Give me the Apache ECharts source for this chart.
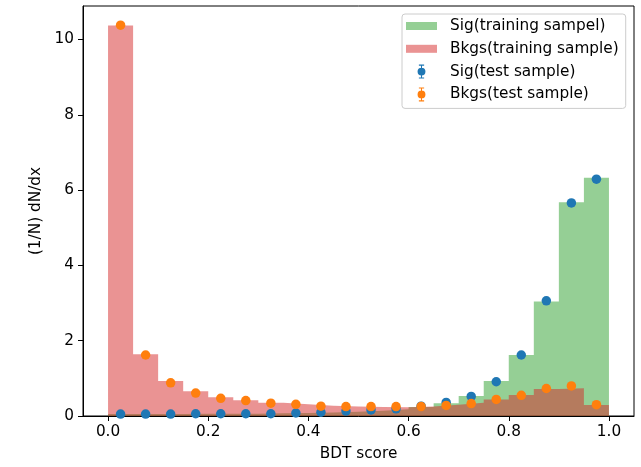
<!DOCTYPE html>
<html>
<head>
<meta charset="utf-8">
<script src="https://cdn.jsdelivr.net/npm/echarts@6/dist/echarts.min.js"></script>
<style>html,body{margin:0;padding:0;background:#fff;}#c{width:641px;height:467px;}</style>
</head>
<body>
<div id="c"></div>
<script>
// Bin edges of the 20-bin histograms (BDT score from 0 to 1)
var binEdges = [0.00,0.05,0.10,0.15,0.20,0.25,0.30,0.35,0.40,0.45,0.50,0.55,0.60,0.65,0.70,0.75,0.80,0.85,0.90,0.95,1.00];
var xTicks = [0.0,0.2,0.4,0.6,0.8,1.0];
var yTicks = [0,2,4,6,8,10];

// Training-sample histograms (density per bin)
var sigTrain = [0.05,0.05,0.05,0.06,0.06,0.06,0.07,0.08,0.09,0.11,0.14,0.18,0.24,0.34,0.53,0.93,1.62,3.04,5.68,6.33];
var bkgTrain = [10.37,1.64,0.93,0.66,0.50,0.42,0.35,0.31,0.27,0.25,0.24,0.23,0.25,0.30,0.35,0.44,0.56,0.72,0.74,0.29];
// Test-sample points (bin centres)
var sigTest = [0.05,0.05,0.05,0.06,0.06,0.06,0.06,0.08,0.10,0.13,0.16,0.19,0.26,0.36,0.52,0.91,1.62,3.06,5.66,6.29];
var bkgTest = [10.38,1.62,0.88,0.61,0.47,0.41,0.34,0.31,0.26,0.25,0.25,0.25,0.25,0.28,0.33,0.44,0.55,0.73,0.80,0.30];

var names = ['Sig(training sampel)','Bkgs(training sample)','Sig(test sample)','Bkgs(test sample)'];
var colors = ['rgba(44,160,44,0.5)','rgba(214,39,40,0.5)','#1f77b4','#ff7f0e'];

function stepData(vals){
  var d = [];
  for (var i = 0; i < vals.length; i++) d.push([binEdges[i], vals[i]]);
  d.push([binEdges[vals.length], vals[vals.length-1]]);
  return d;
}
function pointData(vals){
  var d = [];
  for (var i = 0; i < vals.length; i++) d.push([(binEdges[i]+binEdges[i+1])/2, vals[i]]);
  return d;
}

var FONT = 'DejaVu Sans';
var FS = 15.3;
var rectIcon = 'path://M0,0H31V8H0Z';
var ebIcon = 'path://M2,0H8V1.2H5.6V4H4.4V1.2H2Z M4.4,12H5.6V14.8H8V16H2V14.8H4.4Z M0.5,8A4.5,4.5 0 1,1 9.5,8A4.5,4.5 0 1,1 0.5,8Z';
var icons = [rectIcon, rectIcon, ebIcon, ebIcon];

var legendData = names.map(function(n, i){
  return {name: n, icon: icons[i], itemStyle: {color: colors[i], opacity: 1, borderWidth: 0}};
});

var chart = echarts.init(document.getElementById('c'), null, {renderer:'canvas'});
chart.setOption({
  animation: false,
  backgroundColor: '#ffffff',
  textStyle: {fontFamily: FONT},
  grid: {left: 83, right: 7, top: 6, bottom: 51, show: true, borderColor: '#000', borderWidth: 1, backgroundColor: 'transparent'},
  legend: {
    orient: 'vertical',
    left: 402, top: 14,
    itemWidth: 31, itemHeight: 14,
    itemGap: 6.8,
    padding: [4, 7, 6, 4],
    backgroundColor: 'rgba(255,255,255,0.8)',
    borderColor: '#cccccc', borderWidth: 1, borderRadius: 3,
    textStyle: {fontFamily: FONT, fontSize: FS, lineHeight: 16, color: '#000', padding: [0,0,0,8]},
    selectedMode: false,
    data: legendData
  },
  xAxis: {
    type: 'value', min: -0.05, max: 1.05,
    name: 'BDT score', nameLocation: 'middle', nameGap: 31,
    nameTextStyle: {fontFamily: FONT, fontSize: FS, color: '#000'},
    axisLine: {show: true, onZero: false, lineStyle: {color: '#000', width: 1}},
    axisTick: {show: true, length: 5, inside: false, customValues: xTicks, lineStyle: {color: '#000'}},
    axisLabel: {show: true, margin: 9, customValues: xTicks, fontFamily: FONT, fontSize: FS, color: '#000',
      formatter: function(v){ return v.toFixed(1); }},
    splitLine: {show: false}
  },
  yAxis: {
    type: 'value', min: 0, max: 10.89,
    name: '(1/N) dN/dx', nameLocation: 'middle', nameGap: 35,
    nameTextStyle: {fontFamily: FONT, fontSize: FS, color: '#000'},
    axisLine: {show: true, onZero: false, lineStyle: {color: '#000', width: 1}},
    axisTick: {show: true, length: 5, inside: false, customValues: yTicks, lineStyle: {color: '#000'}},
    axisLabel: {show: true, margin: 9, customValues: yTicks, fontFamily: FONT, fontSize: FS, color: '#000'},
    splitLine: {show: false}
  },
  series: [
    {
      name: names[0], type: 'line', step: 'end',
      data: stepData(sigTrain), showSymbol: false, symbol: 'none',
      color: colors[0],
      lineStyle: {width: 0},
      areaStyle: {color: colors[0], opacity: 1, origin: 'start'},
      emphasis: {disabled: true}, silent: true, z: 1
    },
    {
      name: names[1], type: 'line', step: 'end',
      data: stepData(bkgTrain), showSymbol: false, symbol: 'none',
      color: colors[1],
      lineStyle: {width: 0},
      areaStyle: {color: colors[1], opacity: 1, origin: 'start'},
      emphasis: {disabled: true}, silent: true, z: 2
    },
    {
      name: names[2], type: 'scatter', data: pointData(sigTest),
      symbol: 'circle', symbolSize: 9.5,
      itemStyle: {color: colors[2], opacity: 1},
      emphasis: {disabled: true}, silent: true, z: 3
    },
    {
      name: names[3], type: 'scatter', data: pointData(bkgTest),
      symbol: 'circle', symbolSize: 9.5,
      itemStyle: {color: colors[3], opacity: 1},
      emphasis: {disabled: true}, silent: true, z: 4
    }
  ]
});
</script>
</body>
</html>
